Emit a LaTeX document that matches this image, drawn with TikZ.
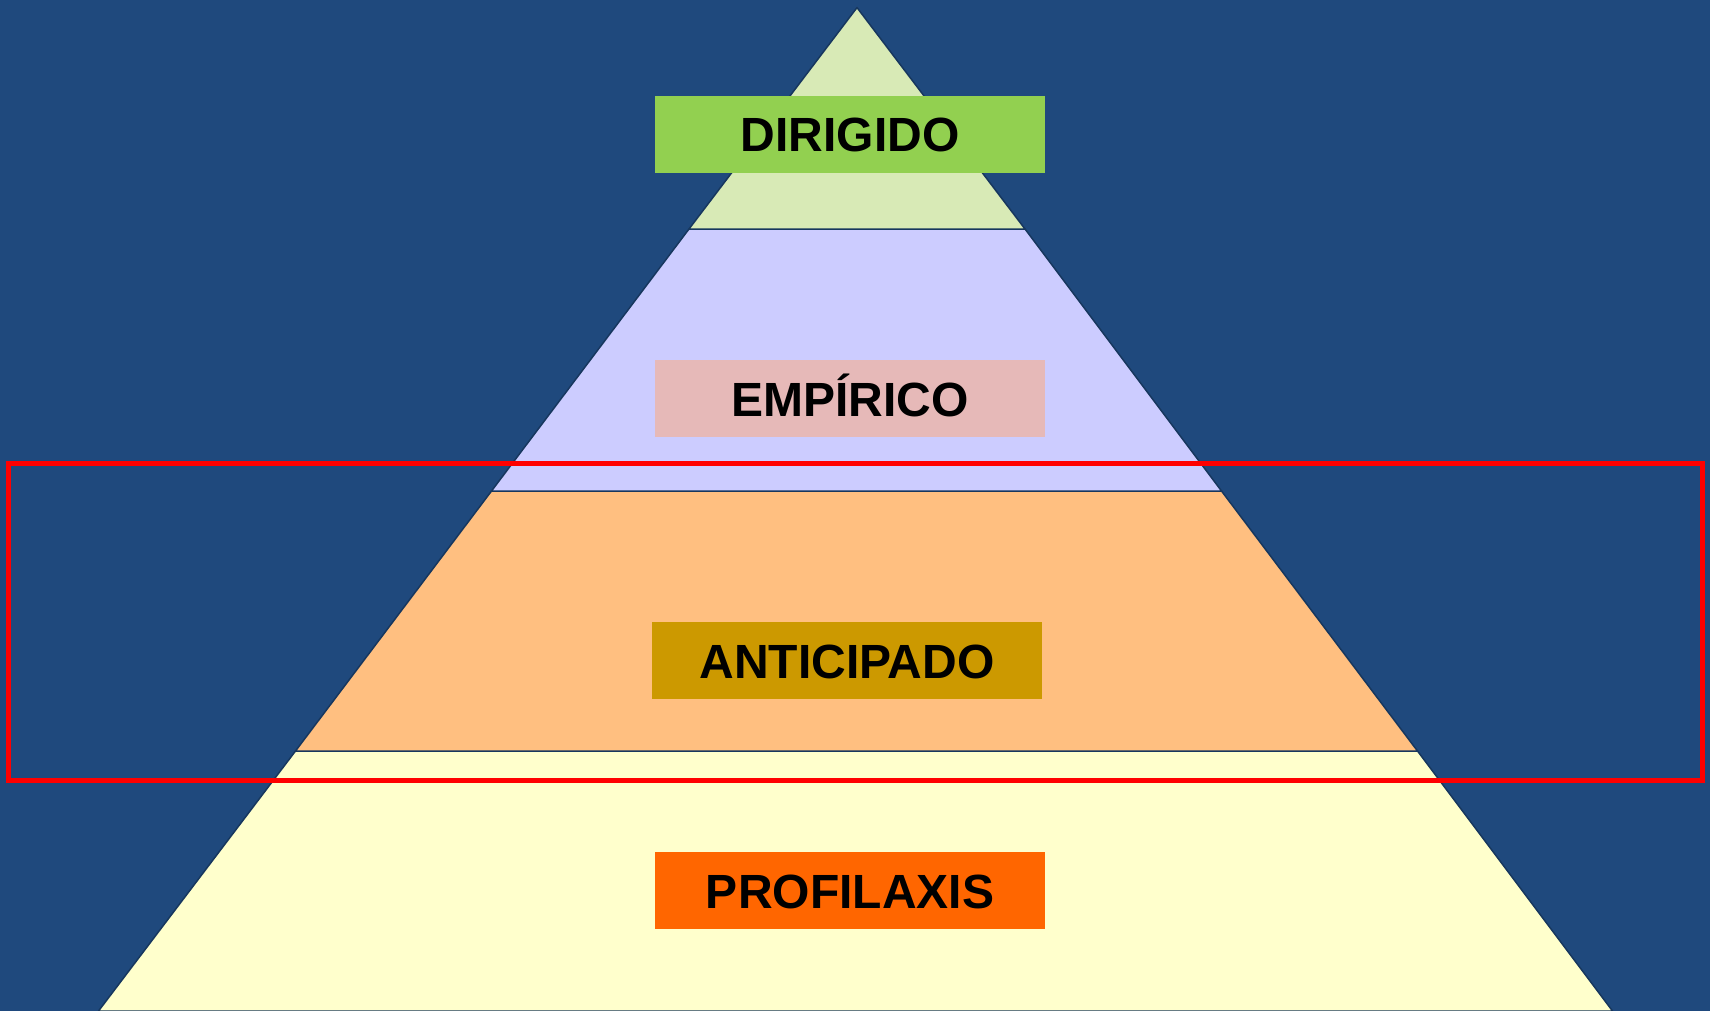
\documentclass[tikz,border=0pt]{standalone}
\usepackage{fontspec}
\setmainfont{Liberation Sans}
\usetikzlibrary{calc}

\definecolor{slidebg}{HTML}{1F497D}
\definecolor{edgeblue}{HTML}{17375E}
\definecolor{tiergreen}{HTML}{D8EAB6}
\definecolor{tierlilac}{HTML}{CCCCFF}
\definecolor{tierorange}{HTML}{FFBF80}
\definecolor{tieryellow}{HTML}{FFFFCC}
\definecolor{tagdir}{HTML}{92D050}
\definecolor{tagemp}{HTML}{E6B9B8}
\definecolor{tagant}{HTML}{CC9900}
\definecolor{tagpro}{HTML}{FF6600}

\tikzset{
  tier/.style={draw=edgeblue,line width=1.5pt,line join=round},
  tag/.style={rectangle,inner sep=0pt,minimum width=390pt,minimum height=77pt,
    text height=35pt,text depth=0pt,
    font=\fontsize{48}{58}\selectfont\bfseries}
}

\begin{document}
\begin{tikzpicture}[x=1pt,y=-1pt]
      \useasboundingbox (0,0) rectangle (1710,1011);
      \fill[slidebg] (0,0) rectangle (1710,1011);
      % pyramid corners
      \coordinate (top) at (857,7.6);
      \coordinate (al) at (689,229);   \coordinate (ar) at (1025,229);
      \coordinate (bl) at (491.5,491); \coordinate (br) at (1221.5,491);
      \coordinate (cl) at (295.5,751); \coordinate (cr) at (1417.5,751);
      \coordinate (dl) at (98.5,1011); \coordinate (dr) at (1612.5,1011);
      \filldraw[tier,fill=tieryellow] (cl) -- (cr) -- (dr) -- (dl) -- cycle;
      \filldraw[tier,fill=tierorange] (bl) -- (br) -- (cr) -- (cl) -- cycle;
      \filldraw[tier,fill=tierlilac] (al) -- (ar) -- (br) -- (bl) -- cycle;
      \filldraw[tier,fill=tiergreen] (top) -- (ar) -- (al) -- cycle;
      % labels
      \node [tag,fill=tagdir] (dir) at (850,134.5) {DIRIGIDO};
      \node [tag,fill=tagemp] (emp) at (850,398.5) {EMPÍRICO};
      \node [tag,fill=tagant] (ant) at (847,660.5) {ANTICIPADO};
      \node [tag,fill=tagpro] (pro) at (850,890.5) {PROFILAXIS};
      % highlight
      \draw[red,line width=5pt] (8.5,463) rectangle (1702,780);
    \end{tikzpicture}
\end{document}
